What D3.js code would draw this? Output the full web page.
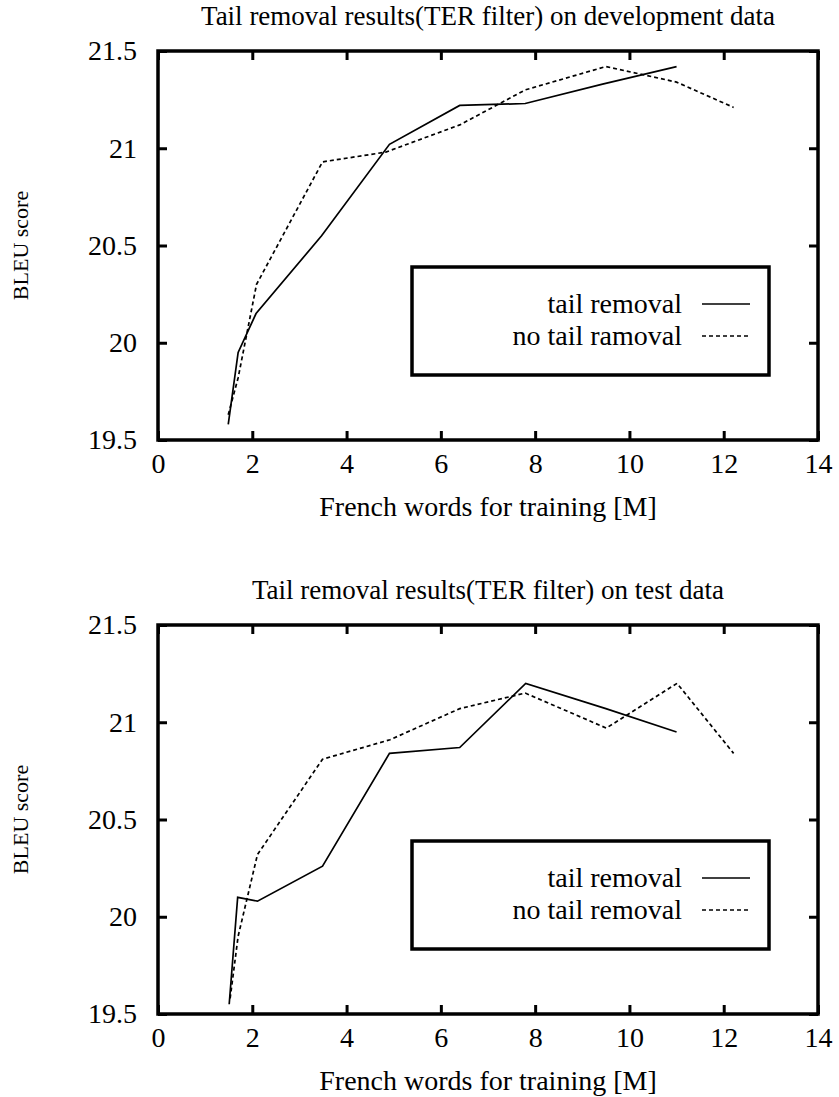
<!DOCTYPE html>
<html><head><meta charset="utf-8">
<script src="https://cdn.jsdelivr.net/npm/d3@7"></script>
<style>
html,body{margin:0;padding:0;background:#fff;}
text{font-family:"Liberation Serif","Times New Roman",serif;fill:#000;}
</style></head>
<body><svg id="c" width="839" height="1097"></svg>
<script>
// ---- data ----
const xTicks = [0, 2, 4, 6, 8, 10, 12, 14];
const yTicks = [19.5, 20, 20.5, 21, 21.5];
const yTickLabels = ["19.5", "20", "20.5", "21", "21.5"];

const devTailX = [1.49, 1.70, 2.08, 3.47, 4.91, 6.40, 7.79, 9.43, 11.0];
const devTailY = [19.58, 19.95, 20.15, 20.55, 21.02, 21.22, 21.23, 21.33, 21.42];
const devNoTailX = [1.49, 1.70, 2.09, 3.49, 4.83, 6.40, 7.79, 9.50, 11.0, 12.21];
const devNoTailY = [19.63, 19.82, 20.30, 20.93, 20.98, 21.12, 21.30, 21.42, 21.34, 21.21];

const testTailX = [1.51, 1.69, 2.11, 3.49, 4.91, 6.40, 7.80, 9.50, 11.0];
const testTailY = [19.55, 20.10, 20.08, 20.26, 20.84, 20.87, 21.20, 21.07, 20.95];
const testNoTailX = [1.53, 1.70, 2.11, 3.49, 4.92, 6.40, 7.79, 9.51, 11.01, 12.21];
const testNoTailY = [19.58, 19.90, 20.32, 20.81, 20.91, 21.07, 21.15, 20.97, 21.20, 20.84];

const titles = ["Tail removal results(TER filter) on development data",
                "Tail removal results(TER filter) on test data"];
const legendLabelsDev = ["tail removal", "no tail ramoval"];
const legendLabelsTest = ["tail removal", "no tail removal"];
const xLabel = "French words for training [M]";
const yLabel = "BLEU score";

// ---- drawing ----
const svg = d3.select("#c");
const FS = 28;
const FST = 27;
const FSY = 22;

function panel(top, title, s1x, s1y, s2x, s2y, legLabels, legTop) {
  const L = 158, R = 818, T = top, B = top + 389;
  const x = d3.scaleLinear().domain([0, 14]).range([L, R]);
  const y = d3.scaleLinear().domain([19.5, 21.5]).range([B, T]);
  const g = svg.append("g");

  // axes (inward ticks, mirrored)
  const fmt = (d) => yTickLabels[yTicks.indexOf(d)];
  const ax = [
    g.append("g").attr("transform", `translate(0,${B})`).call(d3.axisBottom(x).tickValues(xTicks).tickSize(-9).tickPadding(13).tickFormat(d3.format("d"))),
    g.append("g").attr("transform", `translate(0,${T})`).call(d3.axisTop(x).tickValues(xTicks).tickSize(-9).tickFormat("")),
    g.append("g").attr("transform", `translate(${L},0)`).call(d3.axisLeft(y).tickValues(yTicks).tickSize(-9).tickPadding(21).tickFormat(fmt)),
    g.append("g").attr("transform", `translate(${R},0)`).call(d3.axisRight(y).tickValues(yTicks).tickSize(-9).tickFormat(""))
  ];
  ax.forEach(a => {
    a.select(".domain").remove();
    a.selectAll("line").attr("stroke", "#000").attr("stroke-width", 3);
    a.selectAll("text").attr("font-size", FS).attr("font-family", "Liberation Serif").attr("fill", "#000");
  });

  g.append("rect").attr("x", L).attr("y", T).attr("width", R - L).attr("height", B - T)
    .attr("fill", "none").attr("stroke", "#000").attr("stroke-width", 3.5);

  const line = d3.line().x(d => x(d[0])).y(d => y(d[1]));
  g.append("path").datum(d3.zip(s1x, s1y)).attr("d", line)
    .attr("fill", "none").attr("stroke", "#000").attr("stroke-width", 1.7);
  g.append("path").datum(d3.zip(s2x, s2y)).attr("d", line)
    .attr("fill", "none").attr("stroke", "#000").attr("stroke-width", 1.7).attr("stroke-dasharray", "4,3");

  // title and labels
  g.append("text").attr("x", (L + R) / 2).attr("y", T - 26).attr("text-anchor", "middle")
    .attr("font-size", FST).text(title);
  g.append("text").attr("x", (L + R) / 2).attr("y", B + 76).attr("text-anchor", "middle")
    .attr("font-size", FS).text(xLabel);
  g.append("text").attr("transform", `translate(28,${(T + B) / 2}) rotate(-90)`).attr("text-anchor", "middle")
    .attr("font-size", FSY).text(yLabel);

  // legend
  const lx0 = 412, lx1 = 769, ly0 = legTop, ly1 = legTop + 108;
  g.append("rect").attr("x", lx0).attr("y", ly0).attr("width", lx1 - lx0).attr("height", ly1 - ly0)
    .attr("fill", "#fff").attr("stroke", "#000").attr("stroke-width", 3.5);
  legLabels.forEach((lab, i) => {
    const by = ly0 + 46 + i * 32;
    g.append("text").attr("x", 682).attr("y", by).attr("text-anchor", "end").attr("font-size", FS).text(lab);
    const ln = g.append("line").attr("x1", 702).attr("x2", 750).attr("y1", by - 9).attr("y2", by - 9)
      .attr("stroke", "#000").attr("stroke-width", 1.7);
    if (i === 1) ln.attr("stroke-dasharray", "4,3");
  });
}

panel(51, titles[0], devTailX, devTailY, devNoTailX, devNoTailY, legendLabelsDev, 267);
panel(625, titles[1], testTailX, testTailY, testNoTailX, testNoTailY, legendLabelsTest, 841);
</script></body></html>
